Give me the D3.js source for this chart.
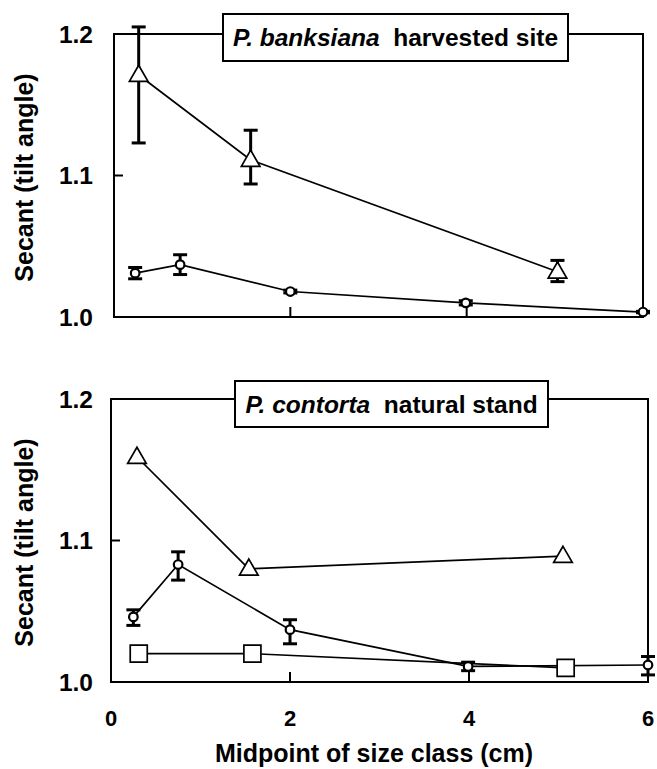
<!DOCTYPE html>
<html>
<head>
<meta charset="utf-8">
<script src="https://cdn.jsdelivr.net/npm/d3@7"></script>
<style>
  body { margin: 0; background: #fff; }
  text { font-family: "Liberation Sans", Arial, Helvetica, sans-serif; font-weight: bold; fill: #000; }
</style>
</head>
<body>
<svg id="chart" width="657" height="769"></svg>
<script>
// x ticks / y ticks
const xTicks = [0, 2, 4, 6];
const yTicks = [1.0, 1.1, 1.2];

// P. banksiana harvested site
const bTriX = [0.28, 1.55, 5.03];
const bTriY = [1.171, 1.111, 1.032];
const bTriLo = [1.123, 1.094, 1.025];
const bTriHi = [1.205, 1.132, 1.040];
const bCircX = [0.24, 0.75, 2.0, 3.99, 6.0];
const bCircY = [1.031, 1.037, 1.018, 1.010, 1.0035];
const bCircLo = [1.027, 1.030, 1.017, 1.0085, 1.003];
const bCircHi = [1.035, 1.044, 1.019, 1.0115, 1.004];

// P. contorta natural stand
const cTriX = [0.29, 1.54, 5.05];
const cTriY = [1.159, 1.080, 1.089];
const cCircX = [0.25, 0.75, 2.0, 3.99, 6.0];
const cCircY = [1.046, 1.083, 1.037, 1.011, 1.012];
const cCircLo = [1.040, 1.072, 1.027, 1.008, 1.005];
const cCircHi = [1.051, 1.092, 1.044, 1.014, 1.018];
const cSqX = [0.31, 1.58, 5.08];
const cSqY = [1.020, 1.020, 1.010];

const svg = d3.select("#chart");

function zip(xs, ys, lo, hi) {
  return xs.map((x, i) => ({ x: x, y: ys[i], lo: lo ? lo[i] : null, hi: hi ? hi[i] : null }));
}

function panel(opt) {
  const x = d3.scaleLinear().domain([0, 6]).range(opt.xr);
  const y = d3.scaleLinear().domain([1.0, 1.2]).range(opt.yr);
  const g = svg.append("g");

  // frame
  g.append("rect")
    .attr("x", x(0)).attr("y", y(1.2))
    .attr("width", x(6) - x(0)).attr("height", y(1.0) - y(1.2))
    .attr("fill", "none").attr("stroke", "#000").attr("stroke-width", 2);

  // inner ticks
  g.selectAll(".xt").data([2, 4]).enter().append("line")
    .attr("x1", d => x(d)).attr("x2", d => x(d))
    .attr("y1", y(1.0)).attr("y2", y(1.0) - 10)
    .attr("stroke", "#000").attr("stroke-width", 2);
  g.append("line")
    .attr("x1", x(0)).attr("x2", x(0) + 9)
    .attr("y1", y(1.1)).attr("y2", y(1.1))
    .attr("stroke", "#000").attr("stroke-width", 2);

  // y tick labels
  g.selectAll(".yl").data(yTicks).enter().append("text")
    .attr("x", 93).attr("y", d => y(d))
    .attr("dy", "0.36em")
    .attr("text-anchor", "end")
    .attr("font-size", 24.5)
    .text(d => d.toFixed(1));

  // y title
  g.append("text")
    .attr("transform", `translate(33,${(y(1.0) + y(1.2)) / 2 + 2}) rotate(-90)`)
    .attr("text-anchor", "middle")
    .attr("font-size", 25)
    .text("Secant (tilt angle)");

  const line = d3.line().x(d => x(d.x)).y(d => y(d.y));

  opt.series.forEach(s => {
    g.append("path").datum(s.data)
      .attr("d", line)
      .attr("fill", "none").attr("stroke", "#000").attr("stroke-width", 1.7);
  });

  // error bars
  opt.series.forEach(s => {
    const e = s.data.filter(d => d.lo != null);
    const eb = g.selectAll(null).data(e).enter().append("g")
      .attr("stroke", "#000").attr("stroke-width", 3);
    eb.append("line")
      .attr("x1", d => x(d.x)).attr("x2", d => x(d.x))
      .attr("y1", d => y(d.lo)).attr("y2", d => y(d.hi));
    eb.append("line")
      .attr("x1", d => x(d.x) - 7).attr("x2", d => x(d.x) + 7)
      .attr("y1", d => y(d.lo)).attr("y2", d => y(d.lo));
    eb.append("line")
      .attr("x1", d => x(d.x) - 7).attr("x2", d => x(d.x) + 7)
      .attr("y1", d => y(d.hi)).attr("y2", d => y(d.hi));
  });

  // markers
  opt.series.forEach(s => {
    const m = g.selectAll(null).data(s.data).enter();
    if (s.shape === "circle") {
      m.append("circle")
        .attr("cx", d => x(d.x)).attr("cy", d => y(d.y)).attr("r", 4.3)
        .attr("fill", "#fff").attr("stroke", "#000").attr("stroke-width", 2.2);
    } else {
      const sym = s.shape === "triangle"
        ? d3.symbol(d3.symbolTriangle, 150)
        : d3.symbol(d3.symbolSquare, 290);
      m.append("path")
        .attr("d", sym)
        .attr("transform", d => `translate(${x(d.x)},${y(d.y) + (s.shape === "triangle" ? 1 : 0)})`)
        .attr("fill", "#fff").attr("stroke", "#000").attr("stroke-width", 1.7);
    }
  });

  // title box
  const tb = opt.box;
  g.append("rect")
    .attr("x", tb[0]).attr("y", tb[1]).attr("width", tb[2]).attr("height", tb[3])
    .attr("fill", "#fff").attr("stroke", "#000").attr("stroke-width", 2);
  const t = g.append("text")
    .attr("x", tb[0] + tb[2] / 2).attr("y", tb[1] + tb[3] / 2)
    .attr("dy", "0.36em")
    .attr("text-anchor", "middle")
    .attr("font-size", 24.5);
  t.append("tspan").attr("font-style", "italic").text(opt.title[0]);
  t.append("tspan").text("\u00a0 " + opt.title[1]);

  return { x, y, g };
}

panel({
  xr: [114, 643], yr: [317, 34],
  box: [223, 14, 345, 47],
  title: ["P. banksiana", "harvested site"],
  series: [
    { shape: "triangle", data: zip(bTriX, bTriY, bTriLo, bTriHi) },
    { shape: "circle", data: zip(bCircX, bCircY, bCircLo, bCircHi) }
  ]
});

const p2 = panel({
  xr: [111, 648], yr: [682, 399],
  box: [235, 381, 313, 46],
  title: ["P. contorta", "natural stand"],
  series: [
    { shape: "triangle", data: zip(cTriX, cTriY) },
    { shape: "circle", data: zip(cCircX, cCircY, cCircLo, cCircHi) },
    { shape: "square", data: zip(cSqX, cSqY) }
  ]
});

// x tick labels (bottom panel only)
p2.g.selectAll(".xl").data(xTicks).enter().append("text")
  .attr("x", d => p2.x(d)).attr("y", 726)
  .attr("text-anchor", "middle")
  .attr("font-size", 22)
  .text(d => d);

p2.g.append("text")
  .attr("x", 374).attr("y", 762)
  .attr("text-anchor", "middle")
  .attr("font-size", 25)
  .text("Midpoint of size class (cm)");
</script>
</body>
</html>
